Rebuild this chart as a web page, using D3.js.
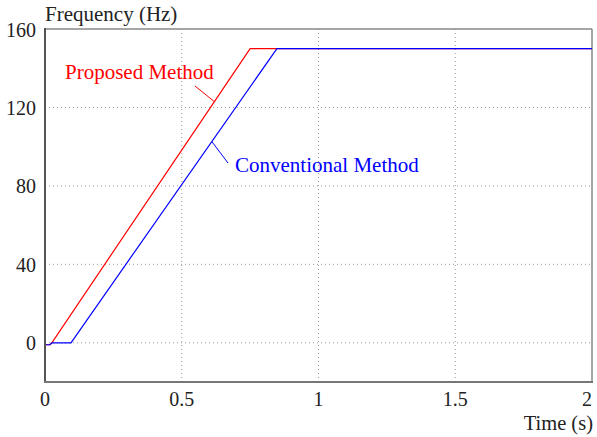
<!DOCTYPE html>
<html><head><meta charset="utf-8">
<script src="https://cdn.jsdelivr.net/npm/d3@7"></script>
</head><body style="margin:0"><svg id="c" width="597" height="437"></svg>
<script>
const proposedTime = [0, 0.018, 0.025, 0.75, 2];
const proposedFreq = [-1, -1, 0, 150, 150];
const conventionalTime = [0, 0.018, 0.025, 0.095, 0.848, 2];
const conventionalFreq = [-1, -1, 0, 0, 150, 150];
const xTicks = [0, 0.5, 1, 1.5, 2];
const xTickLabels = ["0", "0.5", "1", "1.5", "2"];
const yTicks = [0, 40, 80, 120, 160];
const yTickLabels = ["0", "40", "80", "120", "160"];

const FONT = '"Liberation Serif", monospace';
const svg = d3.select("#c");
const L = 45, R = 592, T = 29, B = 382;
const x = d3.scaleLinear().domain([0, 2]).range([L, R]);
const y = d3.scaleLinear().domain([-20, 160]).range([B, T]);

// grid
const g = svg.append("g");
g.selectAll(".vg").data(xTicks.filter(v => v > 0 && v < 2)).enter().append("line")
  .attr("x1", d => x(d)).attr("x2", d => x(d)).attr("y1", T).attr("y2", B)
  .attr("stroke", "#999").attr("stroke-width", 1).attr("stroke-dasharray", "1,3");
g.selectAll(".hg").data(yTicks.filter(v => v < 160)).enter().append("line")
  .attr("y1", d => y(d)).attr("y2", d => y(d)).attr("x1", L).attr("x2", R)
  .attr("stroke", "#999").attr("stroke-width", 1).attr("stroke-dasharray", "1,3");

// frame
svg.append("line").attr("x1", L).attr("x2", R).attr("y1", T).attr("y2", T).attr("stroke", "#888").attr("stroke-width", 1.5);
svg.append("line").attr("x1", R).attr("x2", R).attr("y1", T).attr("y2", B).attr("stroke", "#888").attr("stroke-width", 1.5);

const line = d3.line().x(d => x(d[0])).y(d => y(d[1]));
const pData = proposedTime.map((t, i) => [t, proposedFreq[i]]);
const cData = conventionalTime.map((t, i) => [t, conventionalFreq[i]]);
svg.append("path").datum(pData).attr("d", line).attr("fill", "none").attr("stroke", "#ff0000").attr("stroke-width", 1.2);
svg.append("path").datum(cData).attr("d", line).attr("fill", "none").attr("stroke", "#0000ff").attr("stroke-width", 1.2);

svg.append("line").attr("x1", L).attr("x2", L).attr("y1", T - 1).attr("y2", B + 1).attr("stroke", "#555").attr("stroke-width", 2);
svg.append("line").attr("x1", L - 1).attr("x2", R + 1).attr("y1", B).attr("y2", B).attr("stroke", "#777").attr("stroke-width", 2);

// texts
const texts = [];
xTicks.forEach((d, i) => texts.push({x: x(d), y: 406, a: d === 2 ? "end" : "middle", s: 20, c: "#222", t: xTickLabels[i]}));
yTicks.forEach((d, i) => texts.push({x: 36, y: y(d) + 7.5, a: "end", s: 20, c: "#222", t: yTickLabels[i]}));
texts.push({x: 45, y: 21, a: "start", s: 21, c: "#222", t: "Frequency (Hz)"});
texts.push({x: 593, y: 430, a: "end", s: 20.5, c: "#222", t: "Time (s)"});
texts.push({x: 65, y: 79, a: "start", s: 21, c: "#ff0000", t: "Proposed Method"});
texts.push({x: 235, y: 172, a: "start", s: 21, c: "#0000ff", t: "Conventional Method"});
svg.selectAll("text.lbl").data(texts).enter().append("text")
  .attr("x", d => d.x).attr("y", d => d.y).attr("text-anchor", d => d.a)
  .attr("font-size", d => d.s).attr("fill", d => d.c)
  .style("font-family", FONT).text(d => d.t);

// leader lines
svg.append("line").attr("x1", 195).attr("y1", 86).attr("x2", x(0.62)).attr("y2", y(0.62 * 206.9 - 5.4)).attr("stroke", "#ff0000").attr("stroke-width", 1);
svg.append("line").attr("x1", 228).attr("y1", 163).attr("x2", x(0.61)).attr("y2", y((0.61 - 0.095) / (0.848 - 0.095) * 150)).attr("stroke", "#0000ff").attr("stroke-width", 1);
</script></body></html>
